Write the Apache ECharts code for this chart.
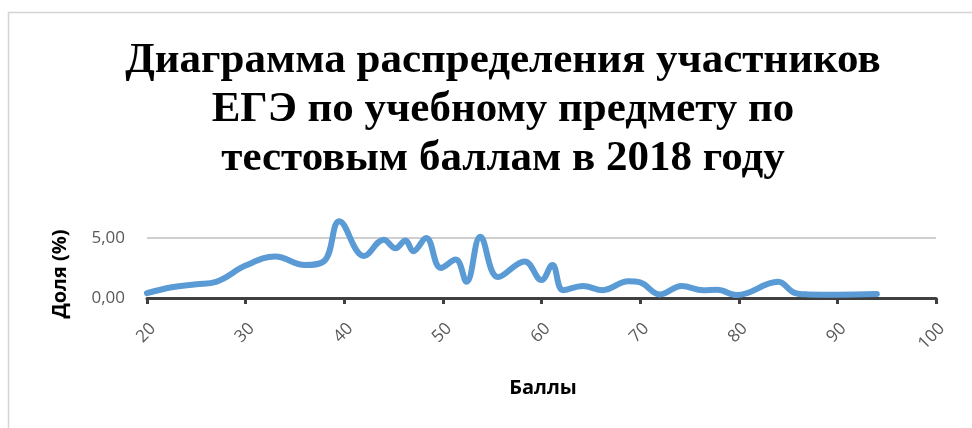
<!DOCTYPE html>
<html>
<head>
<meta charset="utf-8">
<script src="https://cdn.jsdelivr.net/npm/echarts@6/dist/echarts.min.js"></script>
<style>
html,body{margin:0;padding:0;background:#fff;}
#chart{width:972px;height:428px;}
</style>
</head>
<body>
<div id="chart"></div>
<script>
var titleText = 'Диаграмма распределения участников\nЕГЭ по учебному предмету по\nтестовым баллам в 2018 году';
var xAxisName = 'Баллы';
var yAxisName = 'Доля (%)';
var scores = [20, 22.5, 25, 27, 30, 33, 36, 38, 39.5, 42, 44, 45.2, 46.2, 47, 48.3, 49.8, 51.3, 52.4, 53.8, 55.6, 58.3, 60, 61.1, 62.2, 64.2, 66.2, 68.8, 70, 72, 74.2, 76.4, 77.8, 79.8, 84, 85.6, 87, 90, 94];
var shares = [0.4, 0.9, 1.15, 1.35, 2.7, 3.45, 2.75, 3.1, 6.4, 3.5, 4.85, 4.15, 4.8, 3.9, 5.0, 2.5, 3.2, 1.35, 5.1, 1.75, 3.05, 1.5, 2.75, 0.65, 1.0, 0.65, 1.4, 1.3, 0.3, 1.0, 0.65, 0.68, 0.25, 1.35, 0.45, 0.3, 0.28, 0.33];

var points = scores.map(function (s, i) { return [s, shares[i]]; });
var sans = '"Open Sans", "Noto Sans", sans-serif';

var chart = echarts.init(document.getElementById('chart'));
chart.setOption({
  animation: false,
  backgroundColor: '#fff',
  graphic: [{
    type: 'rect',
    shape: {x: 8.5, y: 12.5, width: 1000, height: 600},
    style: {fill: 'none', stroke: '#d4d4d4', lineWidth: 1.5},
    silent: true
  }, {
    type: 'text',
    x: 60, y: 274,
    rotation: Math.PI / 2,
    style: {text: yAxisName, fontFamily: sans, fontWeight: 'bold', fontSize: 20, fill: '#000', align: 'center', verticalAlign: 'middle'},
    silent: true
  }, {
    type: 'text',
    x: 543, y: 388,
    style: {text: xAxisName, fontFamily: sans, fontWeight: 'bold', fontSize: 20, fill: '#000', align: 'center', verticalAlign: 'middle'},
    silent: true
  }],
  title: {
    text: titleText,
    left: 498,
    textAlign: 'center',
    top: 31,
    textStyle: {
      fontFamily: '"Liberation Serif", "Times New Roman", serif',
      fontWeight: 'bold',
      fontSize: 43,
      lineHeight: 49,
      color: '#000'
    }
  },
  grid: {left: 147, right: 36, top: 214, bottom: 130},
  xAxis: {
    type: 'value',
    min: 20, max: 100, interval: 10,
    axisLine: {show: true, lineStyle: {color: '#404040', width: 3}},
    axisTick: {show: true, length: 6, lineStyle: {color: '#404040', width: 3}},
    axisLabel: {rotate: 45, margin: 22, verticalAlign: 'top', fontFamily: sans, fontSize: 17, color: '#595959'},
    splitLine: {show: false}
  },
  yAxis: {
    type: 'value',
    min: 0, max: 7, interval: 5,
    axisLine: {show: false},
    axisTick: {show: false},
    axisLabel: {
      margin: 22, showMaxLabel: false,
      fontFamily: sans, fontSize: 17, color: '#595959',
      formatter: function (v) { return v.toFixed(2).replace('.', ','); }
    },
    splitLine: {show: true, showMinLine: false, showMaxLine: false, lineStyle: {color: '#bfbfbf', width: 1.5}}
  },
  series: [{
    type: 'line',
    data: points,
    smooth: 0.4,
    showSymbol: false,
    lineStyle: {color: '#5b9bd5', width: 6, cap: 'round', join: 'round'},
    z: 3
  }]
});
</script>
</body>
</html>
